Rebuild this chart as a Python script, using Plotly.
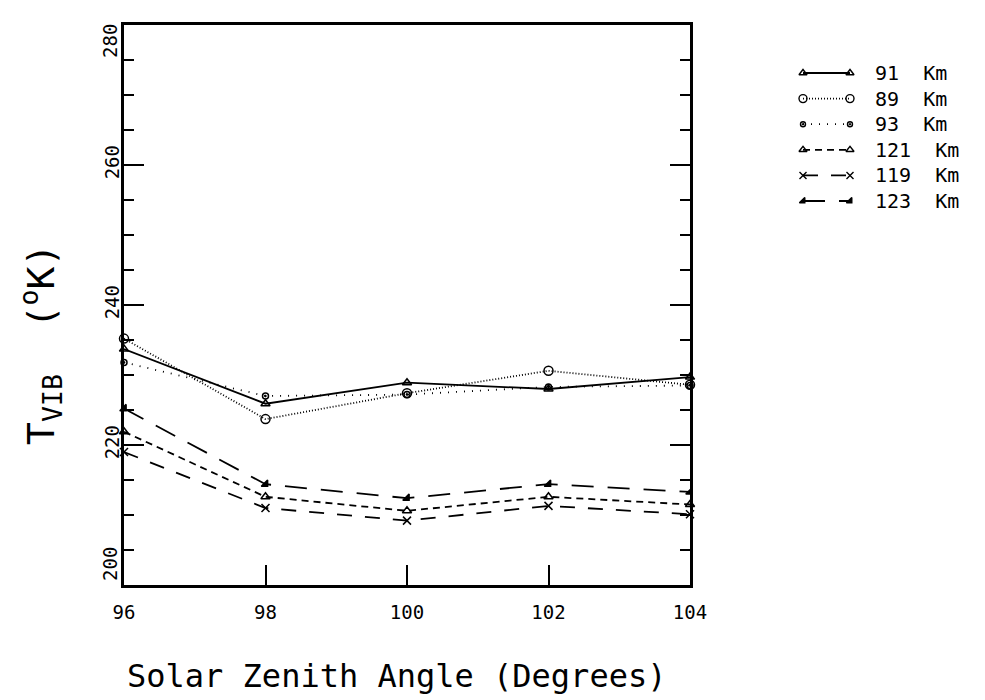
import plotly.graph_objects as go

# Solar zenith angle (degrees) and vibrational temperature (K) per altitude
angles = [96, 98, 100, 102, 104]
altitudes = ["91  Km", "89  Km", "93  Km", "121  Km", "119  Km", "123  Km"]
t_91 = [233.7, 225.9, 228.9, 228.0, 229.7]
t_89 = [235.2, 223.7, 227.4, 230.6, 228.6]
t_93 = [231.8, 227.0, 227.2, 228.3, 228.5]
t_121 = [221.9, 212.6, 210.6, 212.6, 211.5]
t_119 = [219.0, 211.0, 209.2, 211.3, 210.1]
t_123 = [225.2, 214.4, 212.4, 214.4, 213.3]
series = [t_91, t_89, t_93, t_121, t_119, t_123]

x_ticks = [96, 98, 100, 102, 104]
y_ticks = [200, 220, 240, 260, 280]

# line / marker style per altitude
styles = [
    dict(dash="solid", symbol="triangle-up-open", size=8),
    dict(dash="1px,2px", symbol="circle-open", size=9),
    dict(dash="1px,7px", symbol="circle-open-dot", size=6),
    dict(dash="7px,5px", symbol="triangle-up-open", size=8),
    dict(dash="15px,13px", symbol="x-thin-open", size=8),
    dict(dash="22px,14px", symbol="triangle-se", size=7),
]

W, H = 985, 700
FONT = "DejaVu Sans Mono"
INK = "black"
TICK_FONT = dict(family=FONT, size=19, color=INK)

fig = go.Figure()

for vals, st, name in zip(series, styles, altitudes):
    fig.add_trace(go.Scatter(
        x=angles, y=vals, mode="lines+markers", name=name,
        line=dict(color=INK, width=1.8, dash=st["dash"]),
        marker=dict(symbol=st["symbol"], size=st["size"], color=INK,
                    line=dict(color=INK, width=1.5)),
        cliponaxis=False, showlegend=False,
        xaxis="x", yaxis="y",
    ))

# key on its own hidden axes: a short sample line with a marker at each end
key_x0, key_x1, key_text_x = 803, 850, 873
key_y0, key_dy = 73, 25.6
for i, (st, name) in enumerate(zip(styles, altitudes)):
    ky = key_y0 + i * key_dy
    fig.add_trace(go.Scatter(
        x=[key_x0, key_x1], y=[ky, ky], mode="lines+markers",
        line=dict(color=INK, width=1.8, dash=st["dash"]),
        marker=dict(symbol=st["symbol"], size=st["size"] - 1, color=INK,
                    line=dict(color=INK, width=1.4)),
        showlegend=False, hoverinfo="skip",
        xaxis="x2", yaxis="y2",
    ))
    fig.add_annotation(
        x=key_text_x, y=ky, xref="x2", yref="y2", text=name,
        showarrow=False, xanchor="left", yanchor="middle",
        font=dict(family=FONT, size=20, color=INK),
    )

plot_l, plot_r, plot_t, plot_b = 124, 690, 25, 585

# interior y labels come from the axis; the two end labels are tucked
# inside the frame so they do not overhang it
y_text = ["" if v in (y_ticks[0], y_ticks[-1]) else str(v) for v in y_ticks]

fig.update_layout(
    width=W, height=H,
    margin=dict(l=0, r=0, t=0, b=0),
    paper_bgcolor="white", plot_bgcolor="white",
    font=dict(family=FONT, color=INK),
    xaxis=dict(
        domain=[plot_l / W, plot_r / W], range=[96, 104],
        tickvals=x_ticks, ticktext=[str(v) for v in x_ticks],
        ticks="inside", ticklen=20, tickwidth=2, tickcolor=INK,
        showline=True, linewidth=3, linecolor=INK, mirror=True,
        showgrid=False, zeroline=False,
        tickfont=TICK_FONT,
        ticklabelstandoff=8, automargin=False,
    ),
    yaxis=dict(
        domain=[1 - plot_b / H, 1 - plot_t / H], range=[200, 280],
        tickvals=y_ticks, ticktext=y_text,
        ticks="inside", ticklen=20, tickwidth=2, tickcolor=INK,
        minor=dict(dtick=5, ticks="inside", ticklen=10, tickwidth=1.5,
                   tickcolor=INK, showgrid=False),
        tickangle=-90,
        showline=True, linewidth=3, linecolor=INK, mirror="ticks",
        showgrid=False, zeroline=False,
        tickfont=TICK_FONT,
        ticklabelstandoff=-6, automargin=False,
    ),
    xaxis2=dict(domain=[790 / W, 1.0], range=[790, W], visible=False),
    yaxis2=dict(domain=[1 - 230 / H, 1 - 50 / H], range=[230, 50],
                visible=False, anchor="x2"),
)

for v, anchor, shift in ((y_ticks[0], "bottom", 2), (y_ticks[-1], "top", 3)):
    fig.add_annotation(
        x=(plot_l - 1) / W, y=v, xref="paper", yref="y",
        xanchor="right", yanchor=anchor, yshift=shift, text=str(v),
        textangle=-90, showarrow=False, font=TICK_FONT,
    )

fig.add_annotation(
    x=396 / W, y=1 - 676 / H, xref="paper", yref="paper",
    xanchor="center", yanchor="middle",
    text="Solar Zenith Angle (Degrees)", showarrow=False,
    font=dict(family=FONT, size=32, color=INK),
)
fig.add_annotation(
    x=40 / W, y=1 - 345 / H, xref="paper", yref="paper",
    xanchor="center", yanchor="middle",
    text="T<sub>VIB</sub>  (<sup>o</sup>K)", textangle=-90, showarrow=False,
    font=dict(family=FONT, size=38, color=INK),
)

fig.write_html("out.html")
